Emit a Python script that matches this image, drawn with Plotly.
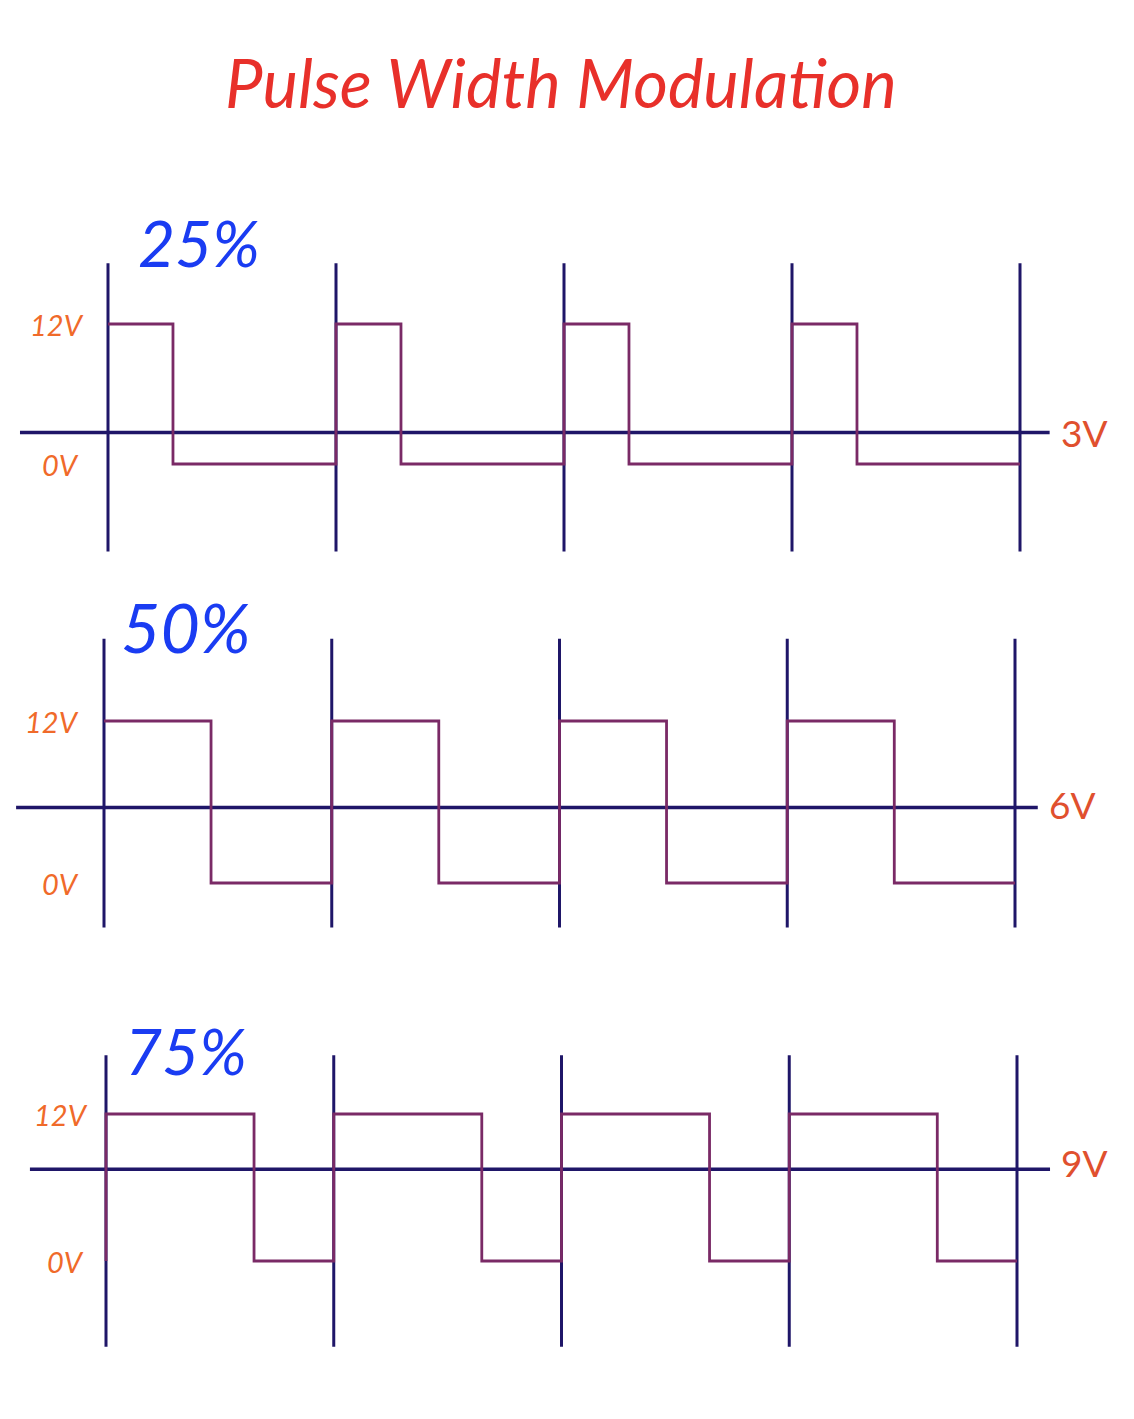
import plotly.graph_objects as go

# ---------------- data ----------------
duty_labels = ["25%", "50%", "75%"]
avg_labels = ["3V", "6V", "9V"]
high_level = 12
low_level = 0
periods = 4
# fall point of each pulse as drawn (fraction of period)
fall_drawn = [0.285, 0.47, 0.65]
# level where the average line is drawn (volts)
avg_drawn = [2.7, 5.6, 7.5]
start_level = [12, 12, 0]
level_labels = ["12V", "0V"]

# ---------------- layout helpers (pixel calibration) ----------------
W, H = 1134, 1419
# per panel: pixel x of t=0, px per period, pixel y of 0V, px per volt
cal = [
    dict(x0=108, px_t=228.0, y0=464, px_v=140 / 12),
    dict(x0=104, px_t=227.75, y0=883, px_v=162 / 12),
    dict(x0=106, px_t=227.75, y0=1261, px_v=147 / 12),
]
marker_top = [17.2, 18.1, 16.8]
marker_bot = [-7.5, -3.3, -7.0]
avg_x = [(-0.386, 4.13), (-0.386, 4.10), (-0.334, 4.145)]
pct_pos = [(0.40, 19.0), (0.36, 19.0), (0.35, 17.2)]
pct_size = [64, 68, 64]
lbl12_x = [-0.224, -0.228, -0.198]
lbl0_x = [-0.21, -0.189, -0.18]
avg_lbl_shift = [0, 3, 7]

NAVY = "#1f1668"
PURPLE = "#7a2a66"

fig = go.Figure()
layout_axes = {}
annotations = []

for i in range(3):
    c = cal[i]
    xr = [(0 - c["x0"]) / c["px_t"], (W - c["x0"]) / c["px_t"]]
    yr = [(c["y0"] - H) / c["px_v"], (c["y0"] - 0) / c["px_v"]]
    sfx = "" if i == 0 else str(i + 1)
    xa, ya = "x" + sfx, "y" + sfx
    layout_axes["xaxis" + sfx] = dict(domain=[0, 1], range=xr, visible=False,
                                      anchor=ya, fixedrange=True)
    layout_axes["yaxis" + sfx] = dict(domain=[0, 1], range=yr, visible=False,
                                      anchor=xa, fixedrange=True)

    # period marker lines
    mx, my = [], []
    for k in range(periods + 1):
        mx += [k, k, None]
        my += [marker_bot[i], marker_top[i], None]
    fig.add_trace(go.Scatter(x=mx, y=my, mode="lines", xaxis=xa, yaxis=ya,
                             line=dict(color=NAVY, width=3), hoverinfo="skip"))

    # average line
    fig.add_trace(go.Scatter(x=list(avg_x[i]), y=[avg_drawn[i]] * 2, mode="lines",
                             xaxis=xa, yaxis=ya, line=dict(color=NAVY, width=3.5),
                             hoverinfo="skip"))

    # PWM waveform
    wx, wy = [0], [start_level[i]]
    for k in range(periods):
        d = fall_drawn[i]
        wx += [k, k + d, k + d, k + 1]
        wy += [high_level, high_level, low_level, low_level]
    fig.add_trace(go.Scatter(x=wx, y=wy, mode="lines", xaxis=xa, yaxis=ya,
                             line=dict(color=PURPLE, width=2.8), hoverinfo="skip"))

    # labels
    annotations.append(dict(x=pct_pos[i][0], y=pct_pos[i][1], xref=xa, yref=ya,
                            text=duty_labels[i], showarrow=False,
                            xanchor="center", yanchor="middle",
                            font=dict(family="Lato", size=pct_size[i], color="#1a3cf2", style="italic")))
    annotations.append(dict(x=lbl12_x[i], y=high_level, xref=xa, yref=ya,
                            text=level_labels[0], showarrow=False,
                            xanchor="center", yanchor="middle",
                            font=dict(family="Lato", size=29, color="#f06a2a", style="italic")))
    annotations.append(dict(x=lbl0_x[i], y=low_level, xref=xa, yref=ya,
                            text=level_labels[1], showarrow=False,
                            xanchor="center", yanchor="middle",
                            font=dict(family="Lato", size=29, color="#f06a2a", style="italic")))
    annotations.append(dict(x=avg_x[i][1] + 0.04, y=avg_drawn[i], xref=xa, yref=ya,
                            text=avg_labels[i], showarrow=False, xanchor="left",
                            yanchor="middle", yshift=avg_lbl_shift[i],
                            font=dict(family="Lato", size=37, color="#e0502e")))

annotations.append(dict(x=561 / W, y=1 - 82 / H, xref="paper", yref="paper",
                        text="Pulse Width Modulation", showarrow=False,
                        xanchor="center", yanchor="middle",
                        font=dict(family="Lato", size=67, color="#e8302a", style="italic")))

fig.update_layout(
    width=W, height=H,
    margin=dict(l=0, r=0, t=0, b=0),
    paper_bgcolor="white", plot_bgcolor="rgba(0,0,0,0)",
    showlegend=False,
    annotations=annotations,
    **layout_axes,
)

fig.write_html("out.html", config={"displayModeBar": False},
               post_script="document.body.style.margin='0';")
